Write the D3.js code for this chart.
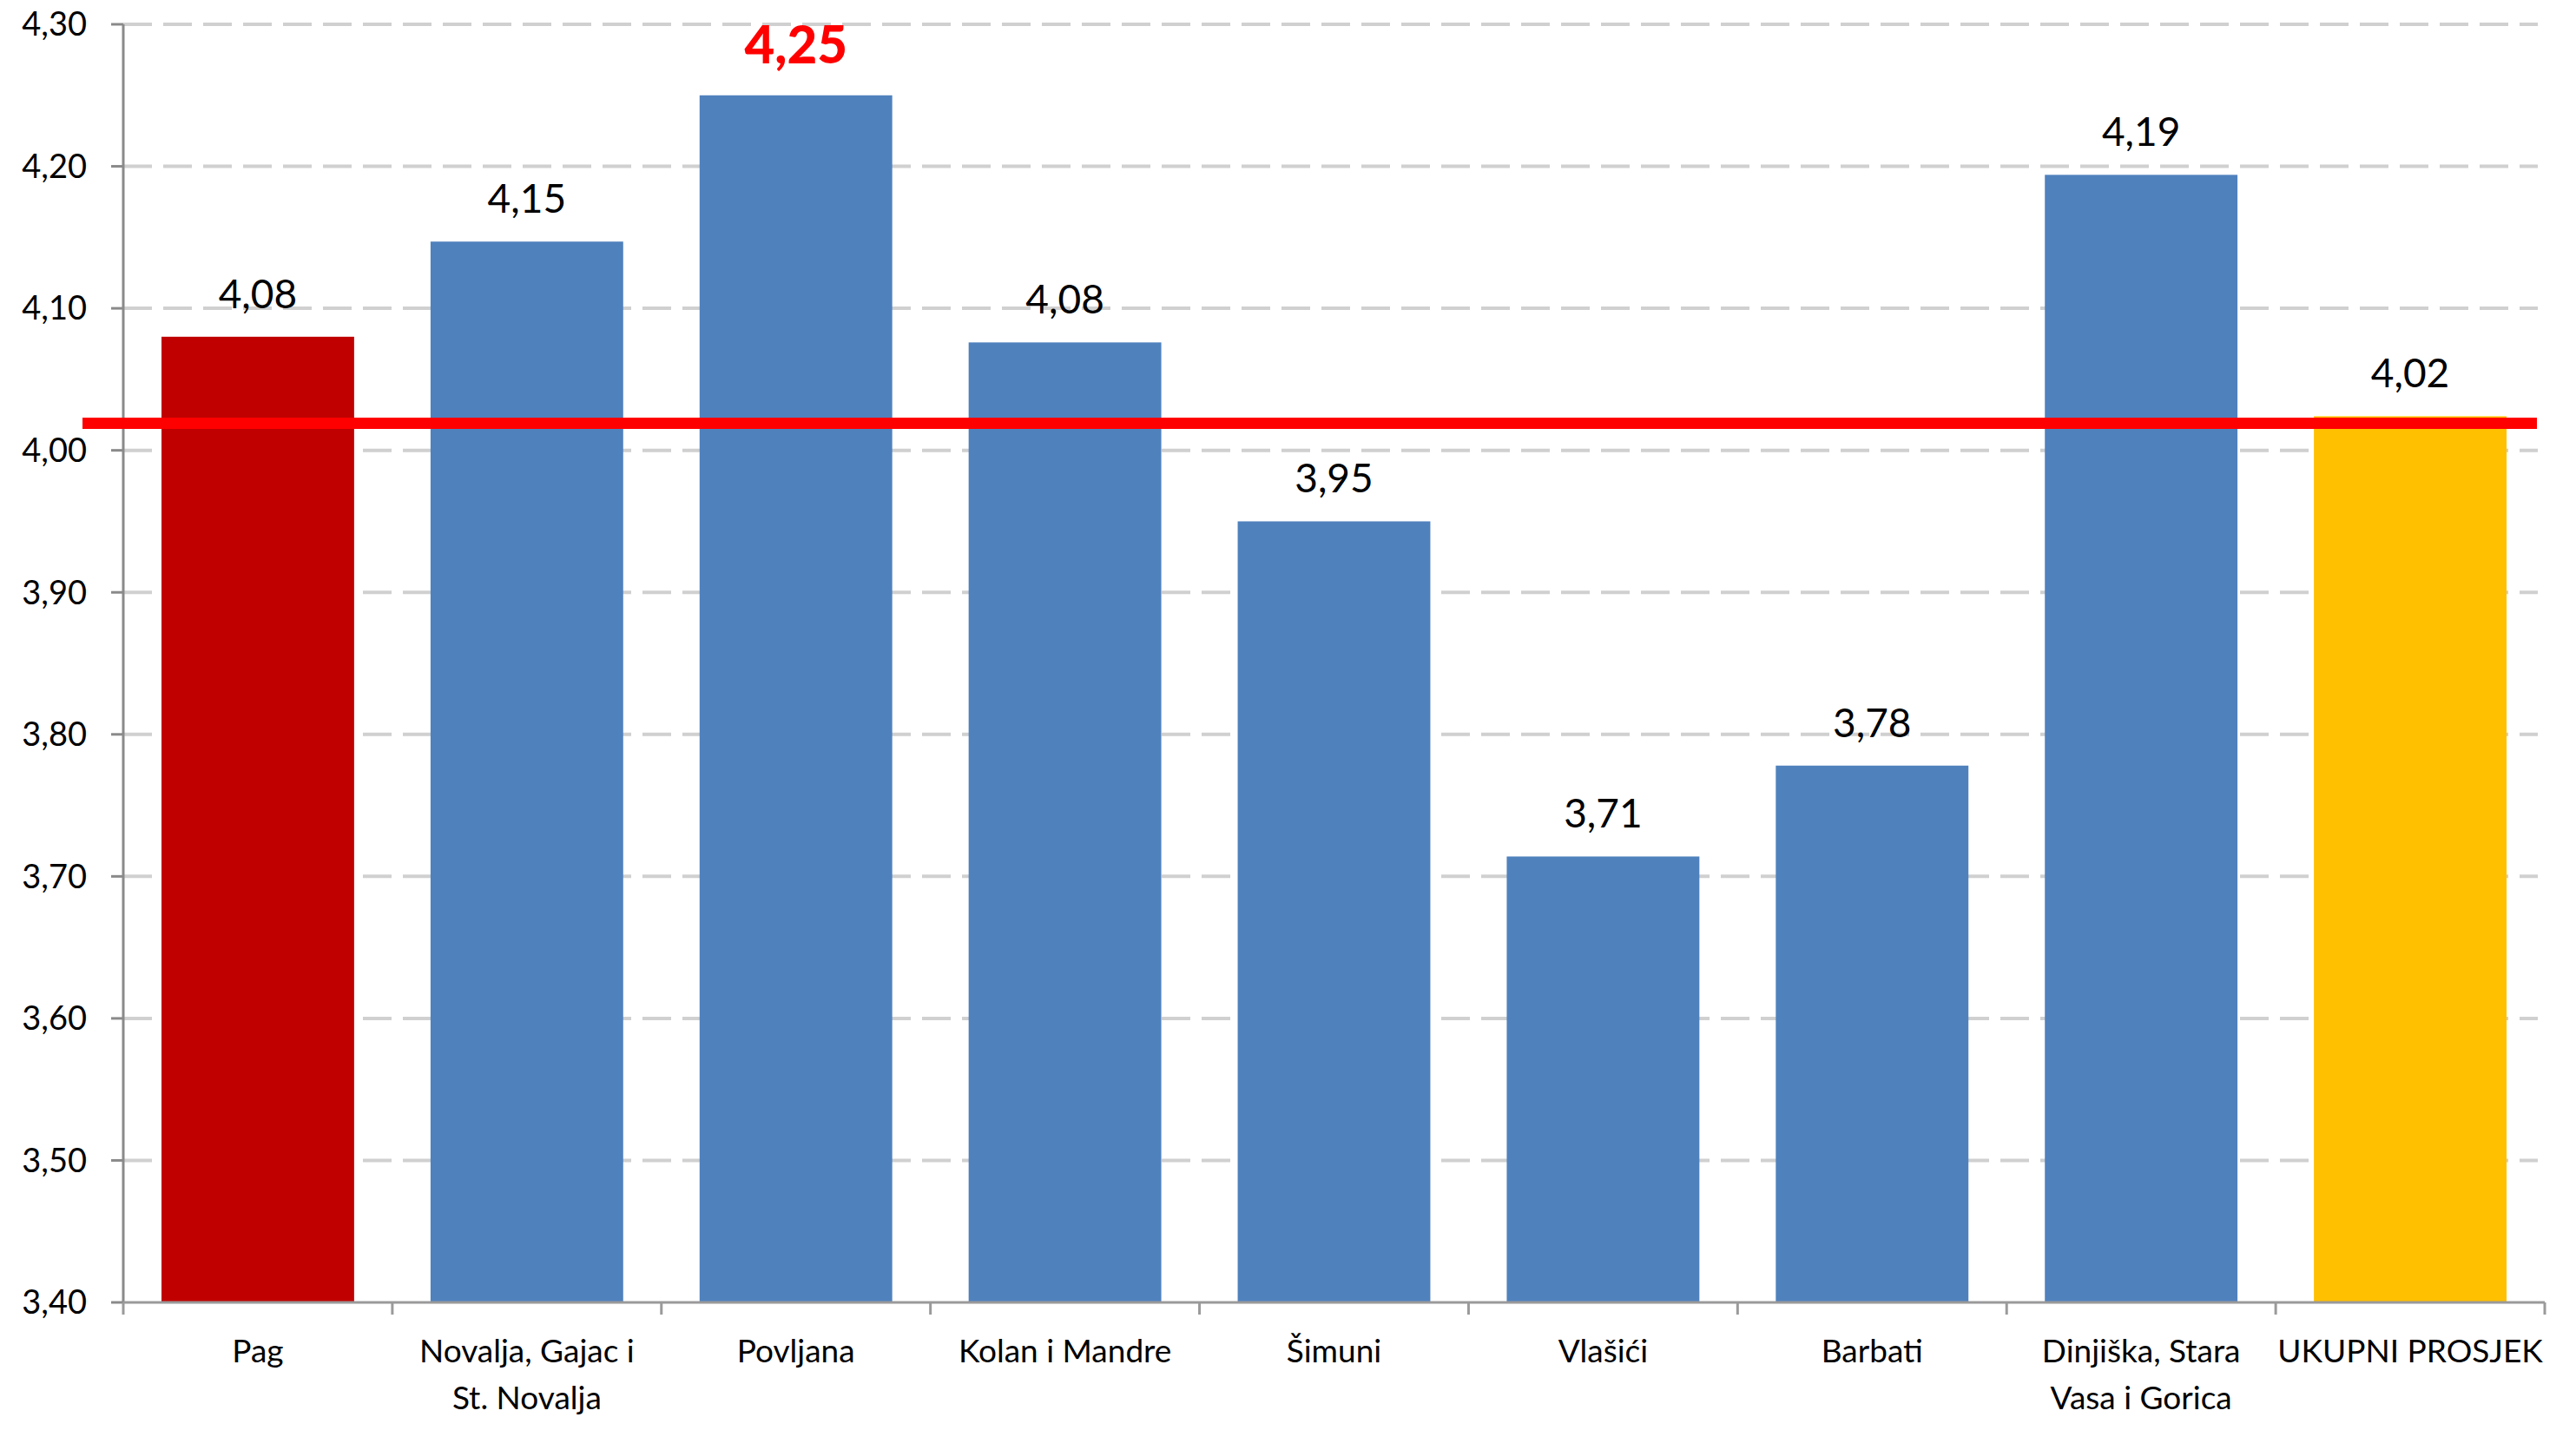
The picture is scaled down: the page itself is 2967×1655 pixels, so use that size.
<!DOCTYPE html>
<html>
<head>
<meta charset="utf-8">
<script src="https://cdn.jsdelivr.net/npm/d3@7"></script>
<style>
  html, body { margin: 0; padding: 0; background: #ffffff; }
  svg { display: block; }
  text { font-family: Lato, "Open Sans", "Liberation Sans", sans-serif; fill: #000; }
</style>
</head>
<body>
<svg id="chart" width="2967" height="1655"></svg>
<script>
// ---- data ----
const categories = ["Pag", "Novalja, Gajac i St. Novalja", "Povljana", "Kolan i Mandre", "Šimuni", "Vlašići", "Barbati", "Dinjiška, Stara Vasa i Gorica", "UKUPNI PROSJEK"];
const categoryLines = [["Pag"], ["Novalja, Gajac i", "St. Novalja"], ["Povljana"], ["Kolan i Mandre"], ["Šimuni"], ["Vlašići"], ["Barbati"], ["Dinjiška, Stara", "Vasa i Gorica"], ["UKUPNI PROSJEK"]];
const values = [4.080, 4.147, 4.250, 4.076, 3.950, 3.714, 3.778, 4.194, 4.024];
const barColors = ["#C00000", "#4F81BD", "#4F81BD", "#4F81BD", "#4F81BD", "#4F81BD", "#4F81BD", "#4F81BD", "#FFC000"];
const highlightIndex = 2;
const averageValue = 4.019;
const yTicks = [3.40, 3.50, 3.60, 3.70, 3.80, 3.90, 4.00, 4.10, 4.20, 4.30];

// ---- layout ----
const svg = d3.select("#chart");
const plotLeft = 142, plotRight = 2931, plotTop = 28, plotBottom = 1500;

const y = d3.scaleLinear().domain([3.4, 4.3]).range([plotBottom, plotTop]);
const x = d3.scaleBand().domain(categories).range([plotLeft, plotRight]).paddingInner(0.284).paddingOuter(0.142);
const fmt = v => d3.format(".2f")(v).replace(".", ",");

// gridlines
svg.append("g").selectAll("line").data(yTicks.slice(1)).join("line")
  .attr("x1", plotLeft).attr("x2", plotRight - 8)
  .attr("y1", d => y(d)).attr("y2", d => y(d))
  .attr("stroke", "#d0d0d0").attr("stroke-width", 4)
  .attr("stroke-dasharray", "33,13");

// bars
svg.append("g").selectAll("rect").data(values).join("rect")
  .attr("x", (d, i) => x(categories[i]))
  .attr("width", x.bandwidth())
  .attr("y", d => y(d))
  .attr("height", d => y(3.4) - y(d))
  .attr("fill", (d, i) => barColors[i]);

// y axis
const yAxis = svg.append("g");
yAxis.append("line").attr("x1", plotLeft).attr("x2", plotLeft).attr("y1", plotTop).attr("y2", plotBottom)
  .attr("stroke", "#8a8a8a").attr("stroke-width", 3);
yAxis.selectAll(".tk").data(yTicks).join("line").attr("class", "tk")
  .attr("x1", plotLeft - 14).attr("x2", plotLeft).attr("y1", d => y(d)).attr("y2", d => y(d))
  .attr("stroke", "#8a8a8a").attr("stroke-width", 3);
yAxis.selectAll("text").data(yTicks).join("text")
  .attr("x", 100).attr("y", d => y(d)).attr("dy", "0.35em")
  .attr("text-anchor", "end").attr("font-size", 38)
  .text(d => fmt(d));

// x axis
const step = x.step();
const boundaries = d3.range(categories.length + 1).map(i => x(categories[0]) - step * x.paddingInner() / 2 + i * step);
const xAxis = svg.append("g");
xAxis.append("line").attr("x1", plotLeft).attr("x2", plotRight).attr("y1", plotBottom).attr("y2", plotBottom)
  .attr("stroke", "#9a9a9a").attr("stroke-width", 3);
xAxis.selectAll(".tk").data(boundaries).join("line").attr("class", "tk")
  .attr("x1", d => d).attr("x2", d => d).attr("y1", plotBottom).attr("y2", plotBottom + 14)
  .attr("stroke", "#9a9a9a").attr("stroke-width", 3);
const catText = xAxis.selectAll(".cat").data(categoryLines).join("text").attr("class", "cat")
  .attr("text-anchor", "middle").attr("font-size", 37)
  .attr("transform", (d, i) => `translate(${x(categories[i]) + x.bandwidth() / 2},${plotBottom + 69})`);
catText.selectAll("tspan").data(d => d).join("tspan")
  .attr("x", 0).attr("y", (d, j) => j * 54).text(d => d);

// average line
svg.append("line")
  .attr("x1", 95).attr("x2", plotRight - 9)
  .attr("y1", y(averageValue)).attr("y2", y(averageValue))
  .attr("stroke", "#FF0000").attr("stroke-width", 13);

// value labels
svg.append("g").selectAll("text").data(values).join("text")
  .attr("x", (d, i) => x(categories[i]) + x.bandwidth() / 2)
  .attr("y", (d, i) => y(d) - (i === highlightIndex ? 37 : 33))
  .attr("text-anchor", "middle")
  .attr("font-size", (d, i) => i === highlightIndex ? 60 : 46)
  .attr("font-weight", (d, i) => i === highlightIndex ? "900" : "normal")
  .style("fill", (d, i) => i === highlightIndex ? "#FF0000" : "#000")
  .text(d => fmt(d));
</script>
</body>
</html>
